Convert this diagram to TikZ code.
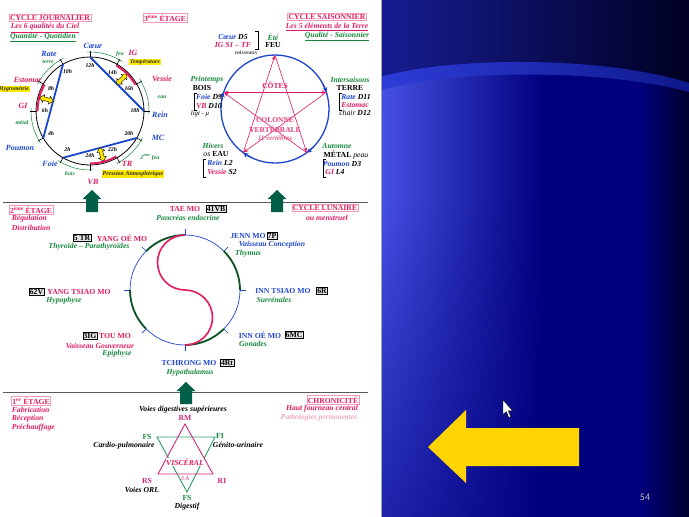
\documentclass[tikz,border=0pt]{standalone}
\usepackage{fontspec}
\setmainfont{Liberation Serif}
\newfontfamily\slidefont{Carlito}
\usetikzlibrary{shapes.arrows,arrows.meta,calc,fadings}
\definecolor{pk}{RGB}{226,28,98}
\definecolor{gr}{RGB}{22,135,60}
\definecolor{grT}{RGB}{40,160,95}
\definecolor{bl}{RGB}{30,70,205}
\definecolor{yl}{RGB}{255,232,0}
\definecolor{dg}{RGB}{0,95,70}
\definecolor{arcg}{RGB}{10,85,35}
\definecolor{vio}{RGB}{200,40,120}
\definecolor{navyA}{RGB}{0,0,125}
\definecolor{blueL}{RGB}{70,80,228}
\definecolor{navyB}{RGB}{0,0,45}
\definecolor{topL}{RGB}{22,28,145}
\definecolor{topR}{RGB}{0,0,35}
\definecolor{bandL}{RGB}{45,60,215}
\definecolor{bandR}{RGB}{15,25,140}
\definecolor{arrowY}{RGB}{255,212,0}
\tikzfading[name=fadeup, top color=transparent!100, bottom color=transparent!45]
\tikzset{
 lb/.style={inner sep=0.6pt, font=\fontsize{7.7}{8.5}\selectfont\bfseries\itshape},
 pkl/.style={lb, text=pk},
 grl/.style={lb, text=gr},
 bll/.style={lb, text=bl},
 bkl/.style={lb, text=black},
 orgl/.style={inner sep=0.5pt, font=\fontsize{8}{9}\selectfont\bfseries\itshape},
 tinyl/.style={inner sep=0.5pt, font=\fontsize{5.7}{6}\selectfont\bfseries\itshape},
 capl/.style={inner sep=0.6pt, font=\fontsize{7.7}{8.5}\selectfont\bfseries},
 titlebox/.style={capl, text=pk, draw=pk!45, line width=0.5pt, inner sep=1pt},
 codebox/.style={capl, fill=black!10, draw=black, line width=0.5pt, inner sep=0.8pt, text=black},
 hil/.style={tinyl, fill=yl, text=black!85, inner sep=0.8pt},
 dblar/.style={double arrow, draw=black, line width=0.4pt, fill=yl, minimum height=14pt, inner sep=1.6pt, double arrow head extend=2.2pt},
 pent/.style={pk, line width=0.6pt, -{Stealth[length=4.5pt,width=3.5pt]}, shorten >=0.5pt},
 divider/.style={black!65, line width=0.8pt},
 bracket/.style={black, line width=0.5pt},
 uparrow/.pic={\fill[dg] (0,0) -- (9.5,9) -- (6,9) -- (6,22) -- (-6,22) -- (-6,9) -- (-9.5,9) -- cycle;}
}
\begin{document}
\begin{tikzpicture}[x=1pt,y=-1pt]
\useasboundingbox (0,0) rectangle (689,517);
% ---------- right slide background ----------
\fill[navyA] (381,0) rectangle (689,517);
\shade[left color=blueL, right color=navyA] (381,0) rectangle (545,517);
\shade[left color=navyA, right color=navyB] (640,0) rectangle (689,517);
\fill[navyA, path fading=fadeup] (381,200) rectangle (560,517);
\shade[left color=topL, right color=topR] (381,0) -- (381,77) .. controls (450,57) and (600,55) .. (689,83) -- (689,0) -- cycle;
\shade[left color=bandL, right color=bandR] (381,77) .. controls (450,57) and (600,55) .. (689,83) -- (689,92) .. controls (600,68) and (450,70) .. (381,90) -- cycle;
\fill[white] (0,0) rectangle (381,517);
\draw[black!35, line width=0.8pt] (381.5,0) -- (381.5,517);
% big yellow arrow
\fill[arrowY] (428,447) -- (466,410) -- (466,428) -- (579,428) -- (579,466) -- (466,466) -- (466,483) -- cycle;
% cursor
\draw[fill=white, line width=0.4pt] (503,400) -- (503,414.5) -- (506.3,411.6) -- (508.8,417.5) -- (510.8,416.7) -- (508.4,410.9) -- (512.8,410.9) -- cycle;
\node[text=black!25!white, font=\slidefont\fontsize{10}{12}\selectfont] (pg) at (645,497) {54};

% ---------- dividers and up arrows ----------
\draw[divider] (3,202) -- (368,202);
\draw[divider] (3,392) -- (368,392);
\pic at (92,190) {uparrow};
\pic at (277,190) {uparrow};
\pic at (186,382) {uparrow};

% ---------- titles top ----------
\node[titlebox] (t1) at (50,18) {CYCLE JOURNALIER};
\node[pkl] (t2) at (45,28) {\underline{Les 6 qualités du Ciel}};
\node[grl] (t3) at (43,37) {\underline{Quantité - Quotidien}};
\node[titlebox] (t4) at (165,18) {3\textsuperscript{ème} ÉTAGE};
\node[titlebox] (t5) at (327,17) {CYCLE SAISONNIER};
\node[pkl] (t6) at (327,27) {\underline{Les 5 éléments de la Terre}};
\node[grl] (t7) at (337,36) {\underline{Qualité - Saisonnier}};

% ---------- daily cycle circle ----------
\begin{scope}[shift={(90,111)}, yscale=-1]
 \foreach \a in {0,30,...,330} \coordinate (J\a) at (\a:54);
 \foreach \s in {0,60,120,180,240,300}
   \draw[gr, line width=0.5pt] (\s-3:59) arc[start angle=\s-3, end angle=\s+33, radius=59];
 \draw[line width=0.8pt] (0,0) circle[radius=54];
 \foreach \a in {0,30,...,330} \draw[line width=0.6pt] (\a:53) -- (\a:60);
 \draw[pk, line width=2pt] (30:52.5) arc[start angle=30, end angle=60, radius=52.5];
 \draw[pk, line width=2pt] (150:52.5) arc[start angle=150, end angle=180, radius=52.5];
 \draw[pk, line width=2pt] (270:52.5) arc[start angle=270, end angle=300, radius=52.5];
 \draw[bl, line width=1.8pt] (J90) -- (J0);
 \draw[bl, line width=1.8pt] (J120) -- (J210);
 \draw[bl, line width=1.8pt] (J240) -- (J330);
 \node[dblar, rotate=45] (ya1) at (45:45) {};
 \node[dblar, rotate=165] (ya2) at (165:45) {};
 \node[dblar, rotate=285] (ya3) at (285:45) {};
 \foreach \h/\a in {12/90,14/60,16/30,18/0,20/-30,22/-60,24/-90,2/-120,4/-150,6/180,8/150,10/120}
   \node[tinyl] (h\h) at (\a:45) {\h h};
\end{scope}
\node[orgl, text=bl] (oCoeur) at (93,46) {Cœur};
\node[orgl, text=bl] (oRate) at (49,54) {Rate};
\node[tinyl, text=gr] (eTerre) at (48,62) {terre};
\node[orgl, text=pk] (oEst) at (28,80) {Estomac};
\node[hil] (qHyg) at (14,89) {Hygrométrie};
\node[orgl, text=pk] (oGI) at (23,106) {GI};
\node[tinyl, text=gr] (eMetal) at (22,123) {métal};
\node[orgl, text=bl] (oPoumon) at (20,148) {Poumon};
\node[orgl, text=bl] (oFoie) at (50,164) {Foie};
\node[tinyl, text=gr] (eBois) at (70,174) {bois};
\node[orgl, text=pk] (oVB) at (93,182) {VB};
\node[hil, font=\fontsize{6}{7}\selectfont\bfseries\itshape] (qPress) at (133,174) {Pression Atmosphérique};
\node[orgl, text=pk] (oTR) at (127,164) {TR};
\node[tinyl, text=gr] (eFeu2) at (150,157) {2\textsuperscript{ème} feu};
\node[orgl, text=bl] (oMC) at (158,138) {MC};
\node[orgl, text=bl] (oRein) at (160,115) {Rein};
\node[tinyl, text=gr] (eEau) at (162,97) {eau};
\node[orgl, text=pk] (oVessie) at (162,79) {Vessie};
\node[hil] (qTemp) at (145,62) {Température};
\node[orgl, text=pk] (oIG) at (133,53) {IG};
\node[tinyl, text=gr] (eFeu) at (120,54) {feu};

% ---------- seasonal cycle circle ----------
\begin{scope}[shift={(275,109)}, yscale=-1]
 \draw[bl, line width=1.3pt] (0,0) circle[radius=54];
 \coordinate (sF) at (90:54);
 \coordinate (sT) at (18:54);
 \coordinate (sM) at (-54:54);
 \coordinate (sE) at (-126:54);
 \coordinate (sB) at (162:54);
 \foreach \a in {18,-54,-126,162}
   \draw[bl, line width=1.3pt, -{Stealth[length=5pt,width=5pt]}] (\a+9:54) arc[start angle=\a+9, end angle=\a, radius=54];
 \draw[pent] (sF) -- (sM);
 \draw[pent] (sM) -- (sB);
 \draw[pent, {Stealth[length=4.5pt,width=3.5pt]}-{Stealth[length=4.5pt,width=3.5pt]}, shorten <=0.5pt] (sB) -- (sT);
 \draw[pent] (sT) -- (sE);
 \draw[pent] (sE) -- (sF);
\end{scope}
\node[pkl, font=\fontsize{7.5}{8}\selectfont\bfseries] (cotes) at (275,85) {CÔTES};
\node[pkl, font=\fontsize{7.5}{8}\selectfont\bfseries, text=pk!85] (col1) at (275,120) {COLONNE};
\node[pkl, font=\fontsize{7.5}{8}\selectfont\bfseries, text=pk!85] (col2) at (275,129) {VERTÉBRALE};
\node[pkl, font=\fontsize{7}{7.5}\selectfont\itshape] (col3) at (275,138) {11 vertèbres};

\node[bkl] (sC1) at (233,37) {\textcolor{bl}{Cœur} D5};
\node[pkl] (sC2) at (233,44.5) {IG S1 – TF};
\draw[bracket] (255,31) -- (258,31) -- (258,49) -- (255,49);
\node[tinyl, text=black!70] (sVai) at (246,53) {vaisseaux};
\node[grl] (sEte) at (273,37) {Été};
\node[capl] (sFeu) at (273,45) {FEU};

\node[grl] (sPr) at (207,80) {Printemps};
\node[capl] (sBois) at (202,88) {BOIS};
\draw[bracket] (197,93) -- (194.5,93) -- (194.5,110) -- (197,110);
\node[bkl] (sFoie) at (209,97) {\textcolor{bl}{Foie} D9};
\node[bkl] (sVB) at (209,106) {\textcolor{pk}{VB} D10};
\node[bkl, font=\fontsize{6.8}{7}\selectfont\itshape] (sLig) at (200,114) {ligt - μ};

\node[grl] (sInt) at (350,80) {Intersaisons};
\node[capl] (sTerre) at (350,88) {TERRE};
\draw[bracket] (342,93) -- (339.5,93) -- (339.5,110) -- (342,110);
\node[bkl] (sRate) at (356,97) {\textcolor{bl}{Rate} D11};
\node[pkl] (sEst) at (355,105) {Estomac};
\node[bkl] (sChair) at (355,113) {{\mdseries chair} D12};

\node[grl] (sHiv) at (213,146) {Hivers};
\node[bkl] (sEau) at (216,154) {{\mdseries os} \upshape EAU};
\draw[bracket] (206,159) -- (203.5,159) -- (203.5,177) -- (206,177);
\node[bkl] (sRein) at (220,163) {\textcolor{bl}{Rein} L2};
\node[bkl] (sVes) at (222,172) {\textcolor{pk}{Vessie} S2};

\node[grl] (sAut) at (337,146) {Automne};
\node[bkl] (sMet) at (346,155) {{\upshape MÉTAL} {\mdseries peau}};
\draw[bracket] (326,159) -- (323.5,159) -- (323.5,177) -- (326,177);
\node[bkl] (sPou) at (342,164) {\textcolor{bl}{Poumon} D3};
\node[bkl] (sGI) at (335,172) {\textcolor{pk}{GI} L4};

% ---------- second stage ----------
\node[titlebox] (e2) at (31,210) {2\textsuperscript{ème} ÉTAGE};
\node[pkl, anchor=west] (e2a) at (11,219) {Régulation};
\node[pkl, anchor=west] (e2b) at (11,228) {Distribution};
\node[titlebox] (lun) at (325,208) {CYCLE LUNAIRE};
\node[pkl] (lun2) at (327,218) {ou menstruel};

\begin{scope}[shift={(185,290)}, yscale=-1]
 \draw[bl, line width=0.7pt] (0,0) circle[radius=55];
 \foreach \a in {0,45,...,315} \draw[bl, line width=0.7pt] (\a:55) -- (\a:61);
 \foreach \s in {0,90,180,270} \draw[arcg, line width=1.8pt] (\s:55) arc[start angle=\s, end angle=\s+45, radius=55];
 \draw[pk, line width=1.6pt] (0,55) arc[start angle=90, end angle=270, radius=27.5] arc[start angle=90, end angle=-90, radius=27.5];
\end{scope}

\node[capl, text=pk] (mTae) at (185,209) {TAE MO};
\node[codebox] (cTae) at (216,209) {41VB};
\node[grl] (gTae) at (188,218) {Pancréas endocrine};
\node[codebox] (cYo) at (82,238) {5 TR};
\node[capl, text=pk] (mYo) at (122,238) {YANG OÉ MO};
\node[grl] (gYo) at (89,247) {Thyroïde – Parathyroïdes};
\node[codebox] (cYt) at (36.5,292) {62V};
\node[capl, text=pk] (mYt) at (79,292) {YANG TSIAO MO};
\node[grl] (gYt) at (64,301) {Hypophyse};
\node[codebox] (cTou) at (90,336) {3IG};
\node[capl, text=pk] (mTou) at (115,336) {TOU MO};
\node[pkl] (pTou) at (100,346) {Vaisseau Gouverneur};
\node[grl] (gTou) at (117,354) {Epiphyse};
\node[capl, text=bl] (mTch) at (189,363) {TCHRONG MO};
\node[codebox] (cTch) at (227,363) {4Rt};
\node[grl] (gTch) at (190,373) {Hypothalamus};
\node[capl, text=bl] (mJen) at (248,236) {JENN MO};
\node[codebox] (cJen) at (272,236) {7P};
\node[bll] (bJen) at (272,245) {Vaisseau Conception};
\node[grl] (gJen) at (248,254) {Thymus};
\node[capl, text=bl] (mIt) at (283,291) {INN TSIAO MO};
\node[codebox] (cIt) at (322,291) {6R};
\node[grl] (gIt) at (274,300) {Surrénales};
\node[capl, text=bl] (mIo) at (260,335) {INN OÉ MO};
\node[codebox] (cIo) at (294,335) {6MC};
\node[grl] (gIo) at (253,344) {Gonades};

% ---------- first stage ----------
\node[titlebox] (e1) at (31,401) {1\textsuperscript{er} ÉTAGE};
\node[pkl, anchor=west] (e1a) at (11,410) {Fabrication};
\node[pkl, anchor=west] (e1b) at (11,419) {Réception};
\node[pkl, anchor=west] (e1c) at (11,428) {Préchauffage};
\node[titlebox] (chr) at (333,400) {CHRONICITÉ};
\node[pkl] (chr2) at (322,409) {Haut fourneau central};
\node[lb, text=pk!55, font=\fontsize{7.5}{8}\selectfont\itshape] (chr3) at (319,418) {Pathologies permanentes};

\coordinate (pA) at (185,424);
\coordinate (pB) at (158,474);
\coordinate (pC) at (213,474);
\coordinate (gA) at (157,437);
\coordinate (gB) at (215,437);
\coordinate (gC) at (187,492);
\draw[grT, line width=0.9pt] (gA) -- (gB) -- (gC) -- cycle;
\draw[vio, line width=0.9pt] (pA) -- (pB) -- (pC) -- cycle;
\node[bkl] (vds) at (183,410) {Voies digestives supérieures};
\node[capl, text=vio] (rm) at (185,418) {RM};
\node[capl, text=gr] (fs1) at (147,437) {FS};
\node[bkl] (cp) at (124,446) {Cardio-pulmonaire};
\node[capl, text=gr] (fi) at (220,436) {FI};
\node[bkl] (gu) at (238,445) {Génito-urinaire};
\node[pkl, fill=white, inner sep=0.3pt] (visc) at (185,462) {VISCÉRAL};
\node[pkl, font=\fontsize{6}{7}\selectfont\itshape] (tra) at (185,479) {3 A};
\node[capl, text=vio] (rs) at (147,481) {RS};
\node[bkl] (orl) at (142,490) {Voies ORL};
\node[capl, text=vio] (ri) at (222,481) {RI};
\node[capl, text=gr] (fs2) at (187,498) {FS};
\node[bkl] (dig) at (187,507) {Digestif};
\end{tikzpicture}
\end{document}
